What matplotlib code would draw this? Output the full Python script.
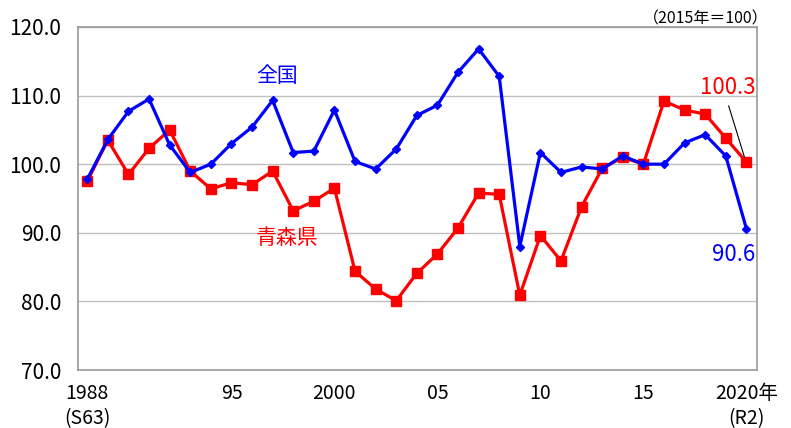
import matplotlib
matplotlib.use("Agg")
import matplotlib.pyplot as plt

plt.rcParams['font.family'] = ['Noto Sans CJK JP', 'DejaVu Sans']

# データ（2015年＝100）
years = list(range(1988, 2021))
zenkoku = [97.8, 103.6, 107.7, 109.5, 102.8, 98.8, 100.0, 103.0, 105.4, 109.3,
           101.7, 101.9, 107.9, 100.4, 99.3, 102.2, 107.1, 108.6, 113.4, 116.8,
           112.8, 88.0, 101.7, 98.8, 99.6, 99.3, 101.2, 100.0, 100.0, 103.1,
           104.3, 101.2, 90.6]
aomori = [97.5, 103.5, 98.5, 102.3, 105.0, 99.0, 96.4, 97.3, 97.0, 99.0,
          93.2, 94.6, 96.5, 84.4, 81.8, 80.1, 84.1, 86.9, 90.7, 95.8,
          95.6, 80.9, 89.6, 85.9, 93.8, 99.4, 101.0, 100.0, 109.2, 107.9,
          107.3, 103.8, 100.3]

yticks = [70, 80, 90, 100, 110, 120]
xticks = [1988, 1995, 2000, 2005, 2010, 2015, 2020]
xlabels = ["1988\n(S63)", "95", "2000", "05", "10", "15", "2020年\n(R2)"]

fig = plt.figure(figsize=(7.91, 4.28), dpi=100)
ax = fig.add_axes([0.0986, 0.1355, 0.858, 0.8015])

ax.plot(years, aomori, color="#ff0000", lw=2.3, marker="s", ms=7, zorder=3)
ax.plot(years, zenkoku, color="#0000ff", lw=2.3, marker="D", ms=4.5, zorder=4)

ax.set_xlim(1987.55, 2020.5)
ax.set_ylim(70, 120)
ax.set_yticks(yticks)
ax.set_yticklabels(["%.1f" % v for v in yticks], fontsize=15)
ax.set_xticks(xticks)
ax.set_xticklabels(xlabels, fontsize=14, va="top", linespacing=1.3)
ax.tick_params(length=0)
ax.tick_params(axis="y", pad=12)
ax.tick_params(axis="x", pad=9)

ax.grid(axis="y", color="#c0c0c0", lw=1)
for s in ax.spines.values():
    s.set_color("#999999")
    s.set_linewidth(1.2)

ax.text(1996.2, 112.8, "全国", color="#0000ff", fontsize=15, va="center")
ax.text(1996.2, 89.2, "青森県", color="#ff0000", fontsize=15, va="center")
ax.text(2020.45, 111.2, "100.3", color="#ff0000", fontsize=16, ha="right",
        va="center")
ax.text(2020.45, 86.8, "90.6", color="#0000ff", fontsize=16, ha="right",
        va="center")
ax.annotate("", xy=(2019.95, 100.6), xytext=(2019.1, 108.9),
            arrowprops=dict(arrowstyle="-", color="black", lw=0.8))
fig.text(0.972, 0.936, "（2015年＝100）", fontsize=11.5, ha="right", va="bottom")

fig.savefig("out.png", dpi=100)
